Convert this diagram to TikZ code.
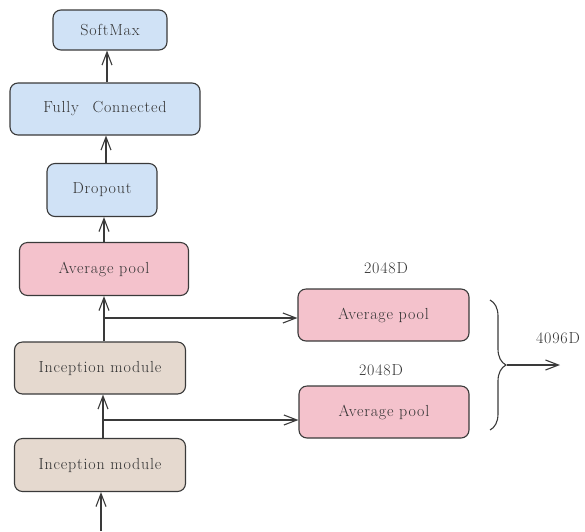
\documentclass[tikz,border=0pt]{standalone}
\usepackage{fontspec}
\setmainfont{Latin Modern Roman}[LetterSpace=5]
\usetikzlibrary{arrows.meta,decorations.pathreplacing}
\definecolor{bluefill}{HTML}{D0E2F6}
\definecolor{pinkfill}{HTML}{F4C2CC}
\definecolor{beigefill}{HTML}{E5D9CF}
\definecolor{edge}{HTML}{3A3A3A}
\begin{document}
\begin{tikzpicture}[x=1pt,y=-1pt,
  box/.style={draw=edge,line width=1.1pt,rounded corners=8pt,align=center,inner sep=0pt,
    font=\fontsize{16}{18}\selectfont,text=black!80},
  bluebox/.style={box,fill=bluefill},
  pinkbox/.style={box,fill=pinkfill},
  beigebox/.style={box,fill=beigefill},
  lbl/.style={font=\fontsize{16}{18}\selectfont,text=black!80,inner sep=0pt},
  arr/.style={draw=edge,line width=1.1pt,-{Straight Barb[length=13pt,width=10pt,line width=1.1pt]}}]
\useasboundingbox (0,0) rectangle (585,531);
\node[bluebox,minimum width=114pt,minimum height=40pt] (soft) at (110,30) {SoftMax};
\node[bluebox,minimum width=190pt,minimum height=52pt] (fc) at (105,109) {Fully\hspace{0.5em} Connected};
\node[bluebox,minimum width=110pt,minimum height=53pt] (drop) at (102,190) {Dropout};
\node[pinkbox,minimum width=169pt,minimum height=53pt] (avg) at (104,269) {Average pool};
\node[beigebox,minimum width=171pt,minimum height=52pt] (inc1) at (100,368) {Inception module};
\node[beigebox,minimum width=171pt,minimum height=53pt] (inc2) at (100,465) {Inception module};
\node[pinkbox,minimum width=171pt,minimum height=52pt] (ap1) at (383.5,315) {Average pool};
\node[pinkbox,minimum width=170pt,minimum height=52pt] (ap2) at (384,412) {Average pool};
\node[lbl] (l1) at (386,268) {2048D};
\node[lbl] (l2) at (381,370) {2048D};
\node[lbl] (l3) at (558,338) {4096D};
% vertical arrows
\draw[arr] ([xshift=2pt]fc.north) -- ([xshift=2pt]fc.north |- soft.south);
\draw[arr] ([xshift=4pt]drop.north) -- ([xshift=4pt]drop.north |- fc.south);
\draw[arr] (avg.north) -- (avg.north |- drop.south);
\draw[arr] ([xshift=4pt]inc1.north) -- ([xshift=4pt]inc1.north |- avg.south);
\draw[arr] ([xshift=3pt]inc2.north) -- ([xshift=3pt]inc2.north |- inc1.south);
\coordinate (in) at (101,531);
\draw[arr] (in) -- (in |- inc2.south);
% branches
\coordinate (j1) at (104,318);
\coordinate (j2) at (103,420);
\draw[arr] (j1) -- (j1 -| ap1.west);
\draw[arr] (j2) -- (j2 -| ap2.west);
% brace
\coordinate (bt) at (490,300);
\coordinate (bb) at (490,430);
\draw[draw=edge,line width=1.1pt,decorate,decoration={brace,amplitude=16pt}] (bt) -- (bb);
\coordinate (tip) at (507,365);
\coordinate (out) at (560,365);
\draw[arr] (tip) -- (out);
\end{tikzpicture}
\end{document}
